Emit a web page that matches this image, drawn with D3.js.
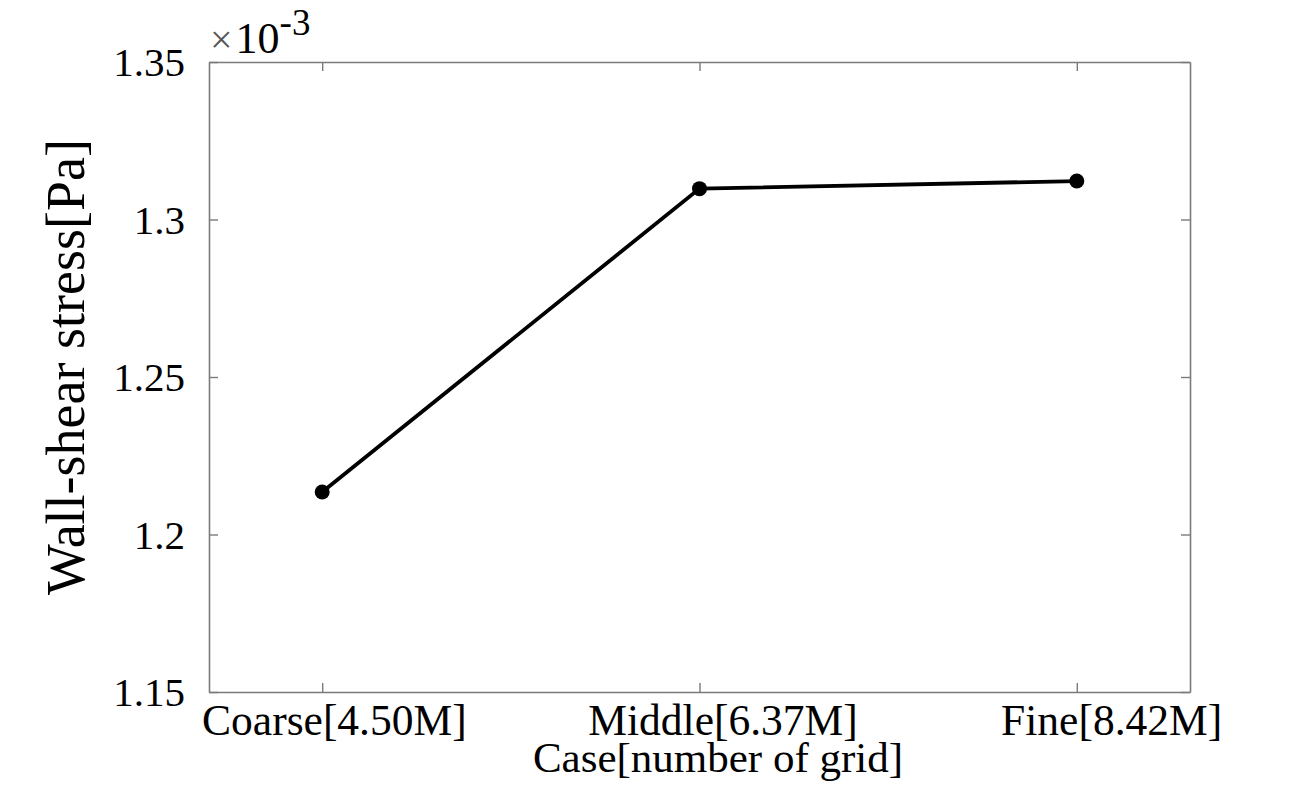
<!DOCTYPE html>
<html>
<head>
<meta charset="utf-8">
<script src="https://cdn.jsdelivr.net/npm/d3@7"></script>
<style>
  body { margin: 0; background: #fff; }
  svg text { font-family: "Liberation Serif", "Times New Roman", serif; fill: #000; }
</style>
</head>
<body>
<svg id="chart" width="1289" height="808"></svg>
<script>
// data (values in units of 1e-3 Pa)
categories = ["Coarse[4.50M]", "Middle[6.37M]", "Fine[8.42M]"];
wss_values = [1.2135, 1.3098, 1.3122];
y_ticks = [1.15, 1.2, 1.25, 1.3, 1.35];
y_tick_labels = ["1.15", "1.2", "1.25", "1.3", "1.35"];

let svg = d3.select("#chart");
let padding = {left: 209, right: 99, top: 62, bottom: 116};
let w = 1289 - padding.left - padding.right;
let h = 808 - padding.top - padding.bottom;
let axis_color = "#7a7a7a";
let label_stretch = 0.03; // x labels in the original sit slightly wider than the ticks

let g = svg.append("g").attr("transform", "translate(" + padding.left + "," + padding.top + ")");

// x scale: categories at 1..3, with a 0.3 margin each side
let x = d3.scaleLinear().domain([0.7, categories.length + 0.3]).range([0, w]);
let y = d3.scaleLinear().domain([1.15, 1.35]).range([h, 0]);

// bottom axis
let x_axis = d3.axisBottom(x)
    .tickValues(d3.range(1, categories.length + 1))
    .tickFormat(function(d, i){ return categories[i]; })
    .tickSizeInner(-9).tickSizeOuter(0).tickPadding(43);
g.append("g").attr("class", "axis x")
    .attr("transform", "translate(0," + h + ")")
    .call(x_axis);

// top axis (ticks only)
g.append("g").attr("class", "axis x2")
    .call(d3.axisTop(x).tickValues(d3.range(1, categories.length + 1))
        .tickFormat("").tickSizeInner(-9).tickSizeOuter(0));

// left axis
let y_axis = d3.axisLeft(y)
    .tickValues(y_ticks)
    .tickFormat(function(d, i){ return y_tick_labels[i]; })
    .tickSizeInner(-9).tickSizeOuter(0).tickPadding(24);
g.append("g").attr("class", "axis y").call(y_axis);

// right axis (ticks only)
g.append("g").attr("class", "axis y2")
    .attr("transform", "translate(" + w + ",0)")
    .call(d3.axisRight(y).tickValues(y_ticks).tickFormat("").tickSizeInner(-9).tickSizeOuter(0));

g.selectAll(".axis path").attr("stroke", axis_color).attr("stroke-width", 1.6);
g.selectAll(".axis line").attr("stroke", axis_color).attr("stroke-width", 1.4);
g.selectAll(".axis text").attr("fill", "#000");
g.selectAll(".axis.y text").style("font-size", "41px").attr("dy", "0.34em");
g.selectAll(".axis.x text").style("font-size", "43.5px").attr("dy", "0")
    .attr("dx", function(d){ return (padding.left + x(d)) * label_stretch + 2; });

// data line + markers
let pts = wss_values.map(function(v, i){ return {x: i + 1, v: v}; });
let line = d3.line()
    .x(function(d){ return x(d.x); })
    .y(function(d){ return y(d.v); });
g.append("path")
    .datum(pts)
    .attr("d", line)
    .attr("fill", "none")
    .attr("stroke", "#000")
    .attr("stroke-width", 3.8);
g.selectAll(".dot")
    .data(pts)
    .enter().append("circle")
    .attr("class", "dot")
    .attr("cx", function(d){ return x(d.x); })
    .attr("cy", function(d){ return y(d.v); })
    .attr("r", 7.5)
    .attr("fill", "#000");

// axis titles
svg.append("text")
    .attr("x", 718)
    .attr("y", 772)
    .attr("text-anchor", "middle")
    .style("font-size", "43px")
    .text("Case[number of grid]");

svg.append("text")
    .attr("transform", "translate(84,367) rotate(-90)")
    .attr("text-anchor", "middle")
    .style("font-size", "54px")
    .text("Wall-shear stress[Pa]");

// exponent label
let ex = svg.append("text")
    .attr("x", 210)
    .attr("y", 53)
    .style("font-size", "44px");
ex.append("tspan").attr("fill", "#555").style("font-size", "40px").text("\u00d7");
ex.append("tspan").attr("dx", 3).text("10");
ex.append("tspan").attr("dy", -18).style("font-size", "37px").text("-3");
</script>
</body>
</html>
